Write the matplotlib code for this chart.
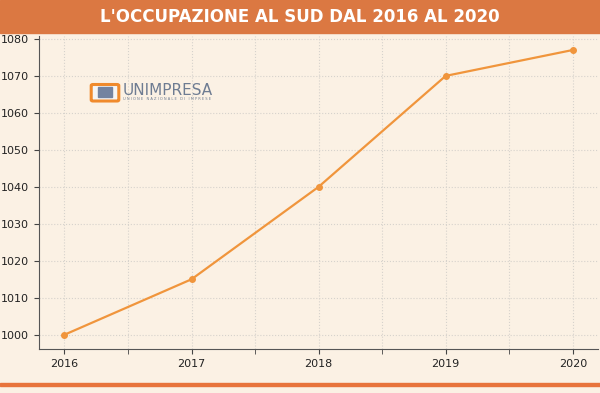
import matplotlib.pyplot as plt
from matplotlib.patches import FancyBboxPatch, Rectangle
from matplotlib.ticker import MultipleLocator

anni = [2016, 2017, 2018, 2019, 2020]
dipendenti = [1000, 1015, 1040, 1070, 1077]

bg = "#FBF1E4"
arancio = "#F0953C"
banner = "#DB7842"

fig = plt.figure(figsize=(6, 3.93), dpi=100, facecolor=bg)
ax = fig.add_axes([0.065, 0.112, 0.932, 0.797], facecolor=bg)

ax.plot(anni, dipendenti, color=arancio, linewidth=1.6, marker="o", markersize=4)

ax.xaxis.set_major_locator(MultipleLocator(1))
ax.xaxis.set_minor_locator(MultipleLocator(0.5))
ax.yaxis.set_major_locator(MultipleLocator(10))
ax.grid(which="both", color="#D6D2CC", linestyle=":", linewidth=0.8)
ax.tick_params(which="both", colors="#444444", labelsize=8, labelcolor="#222222")
ax.tick_params(which="minor", length=3.5)
for s in ["top", "right"]:
    ax.spines[s].set_visible(False)
for s in ["left", "bottom"]:
    ax.spines[s].set_color("#555555")
ax.set_ylabel("Numero di dipendenti (in migliaia)", fontsize=8, color="#222222", labelpad=3)

# banner titolo
fig.patches.append(Rectangle((0, 0.916), 1, 0.084, transform=fig.transFigure,
                             color=banner, zorder=5))
fig.text(0.5, 0.957, "L'OCCUPAZIONE AL SUD DAL 2016 AL 2020", ha="center", va="center",
         color="white", fontsize=12, fontweight="bold", zorder=6)
fig.patches.append(Rectangle((0, 0.018), 1, 0.008, transform=fig.transFigure,
                             color="#E8743C", zorder=5))

# logo
fig.patches.append(FancyBboxPatch((0.155, 0.746), 0.04, 0.036, transform=fig.transFigure,
                                  boxstyle="round,pad=0.003", fc="#F5F5F5", ec="#F08A2C",
                                  lw=2.2, zorder=4))
fig.patches.append(Rectangle((0.164, 0.753), 0.022, 0.026, transform=fig.transFigure,
                             color="#7383A0", zorder=4))
fig.text(0.204, 0.77, "UNIMPRESA", fontsize=11, color="#6E7C92", va="center", zorder=4)
fig.text(0.205, 0.749, "U N I O N E   N A Z I O N A L E   D I   I M P R E S E", fontsize=2.6,
         color="#6E7C92", va="center", zorder=4)

fig.savefig("out.png", dpi=100, facecolor=bg)
